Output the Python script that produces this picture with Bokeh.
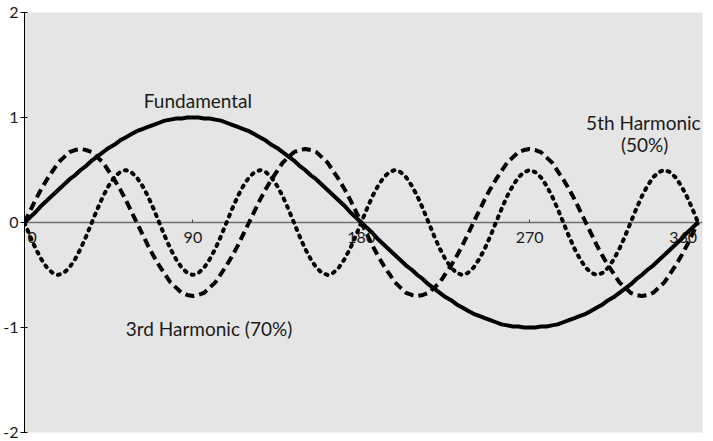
from bokeh.plotting import figure
from bokeh.models import FixedTicker, Label, Range1d
from bokeh.embed import file_html
from bokeh.resources import INLINE

# angle in degrees (sampled every 3 degrees)
degrees = list(range(0, 361, 3))

fundamental = [
    0.00, 0.05, 0.10, 0.16, 0.21, 0.26, 0.31, 0.36, 0.41, 0.45, 0.50, 0.54, 0.59, 0.63, 0.67, 0.71,
    0.74, 0.78, 0.81, 0.84, 0.87, 0.89, 0.91, 0.93, 0.95, 0.97, 0.98, 0.99, 0.99, 1.00, 1.00,
    1.00, 0.99, 0.99, 0.98, 0.97, 0.95, 0.93, 0.91, 0.89, 0.87, 0.84, 0.81, 0.78, 0.74, 0.71,
    0.67, 0.63, 0.59, 0.54, 0.50, 0.45, 0.41, 0.36, 0.31, 0.26, 0.21, 0.16, 0.10, 0.05, 0.00,
    -0.05, -0.10, -0.16, -0.21, -0.26, -0.31, -0.36, -0.41, -0.45, -0.50, -0.54, -0.59, -0.63, -0.67, -0.71,
    -0.74, -0.78, -0.81, -0.84, -0.87, -0.89, -0.91, -0.93, -0.95, -0.97, -0.98, -0.99, -0.99, -1.00, -1.00,
    -1.00, -0.99, -0.99, -0.98, -0.97, -0.95, -0.93, -0.91, -0.89, -0.87, -0.84, -0.81, -0.78, -0.74, -0.71,
    -0.67, -0.63, -0.59, -0.54, -0.50, -0.45, -0.41, -0.36, -0.31, -0.26, -0.21, -0.16, -0.10, -0.05, 0.00,
]

third_harmonic = [
    0.00, 0.11, 0.22, 0.32, 0.41, 0.49, 0.57, 0.62, 0.67, 0.69, 0.70, 0.69, 0.67, 0.62, 0.57, 0.49, 0.41, 0.32, 0.22, 0.11,
    0.00, -0.11, -0.22, -0.32, -0.41, -0.49, -0.57, -0.62, -0.67, -0.69, -0.70, -0.69, -0.67, -0.62, -0.57, -0.49, -0.41, -0.32, -0.22, -0.11,
    0.00, 0.11, 0.22, 0.32, 0.41, 0.49, 0.57, 0.62, 0.67, 0.69, 0.70, 0.69, 0.67, 0.62, 0.57, 0.49, 0.41, 0.32, 0.22, 0.11,
    0.00, -0.11, -0.22, -0.32, -0.41, -0.49, -0.57, -0.62, -0.67, -0.69, -0.70, -0.69, -0.67, -0.62, -0.57, -0.49, -0.41, -0.32, -0.22, -0.11,
    0.00, 0.11, 0.22, 0.32, 0.41, 0.49, 0.57, 0.62, 0.67, 0.69, 0.70, 0.69, 0.67, 0.62, 0.57, 0.49, 0.41, 0.32, 0.22, 0.11,
    0.00, -0.11, -0.22, -0.32, -0.41, -0.49, -0.57, -0.62, -0.67, -0.69, -0.70, -0.69, -0.67, -0.62, -0.57, -0.49, -0.41, -0.32, -0.22, -0.11,
    0.00,
]

fifth_harmonic = [
    0.00, -0.13, -0.25, -0.35, -0.43, -0.48, -0.50, -0.48, -0.43, -0.35, -0.25, -0.13,
    0.00, 0.13, 0.25, 0.35, 0.43, 0.48, 0.50, 0.48, 0.43, 0.35, 0.25, 0.13,
    0.00, -0.13, -0.25, -0.35, -0.43, -0.48, -0.50, -0.48, -0.43, -0.35, -0.25, -0.13,
    0.00, 0.13, 0.25, 0.35, 0.43, 0.48, 0.50, 0.48, 0.43, 0.35, 0.25, 0.13,
    0.00, -0.13, -0.25, -0.35, -0.43, -0.48, -0.50, -0.48, -0.43, -0.35, -0.25, -0.13,
    0.00, 0.13, 0.25, 0.35, 0.43, 0.48, 0.50, 0.48, 0.43, 0.35, 0.25, 0.13,
    0.00, -0.13, -0.25, -0.35, -0.43, -0.48, -0.50, -0.48, -0.43, -0.35, -0.25, -0.13,
    0.00, 0.13, 0.25, 0.35, 0.43, 0.48, 0.50, 0.48, 0.43, 0.35, 0.25, 0.13,
    0.00, -0.13, -0.25, -0.35, -0.43, -0.48, -0.50, -0.48, -0.43, -0.35, -0.25, -0.13,
    0.00, 0.13, 0.25, 0.35, 0.43, 0.48, 0.50, 0.48, 0.43, 0.35, 0.25, 0.13,
    0.00,
]

x_ticks = [0, 90, 180, 270, 360]
x_tick_labels = ["0", "90", "180", "270", "360"]
y_ticks = [-2, -1, 0, 1, 2]
y_tick_labels = ["-2", "-1", "0", "1", "2"]

FONT = "Lato"
TEXT = "#1a1a1a"

p = figure(
    frame_width=678, frame_height=420,
    x_range=Range1d(0, 362.4), y_range=Range1d(-2, 2),
    output_backend="svg", toolbar_location=None,
    min_border_top=12, min_border_bottom=9, min_border_right=7, min_border_left=0,
    background_fill_color="#e5e5e5", border_fill_color="white",
    outline_line_color=None,
)
p.grid.visible = False

# x axis line and ticks crossing at y = 0, drawn beneath the curves
xa = p.xaxis[0]
xa.fixed_location = 0
xa.level = "underlay"
xa.ticker = FixedTicker(ticks=x_ticks)
xa.axis_line_color = "#707070"
xa.axis_line_width = 1.5
xa.major_tick_line_color = "#404040"
xa.major_tick_in = 3
xa.major_tick_out = 0
xa.minor_tick_line_color = None
xa.major_label_text_color = None

# x tick labels, placed through the x scale just below the axis line;
# the end labels are aligned inward so they stay inside the plot frame
end_align = {x_ticks[0]: ("left", 3), x_ticks[-1]: ("right", -1)}
for t, s in zip(x_ticks, x_tick_labels):
    align, dx = end_align.get(t, ("center", 0))
    p.add_layout(Label(x=t, y=0, text=s, x_offset=dx, y_offset=-15,
                       text_align=align, text_baseline="middle",
                       text_font=FONT, text_font_size="16px", text_color=TEXT))

ya = p.yaxis[0]
ya.ticker = FixedTicker(ticks=y_ticks)
ya.major_label_overrides = {t: s for t, s in zip(y_ticks, y_tick_labels)}
ya.axis_line_color = "black"
ya.axis_line_width = 1
ya.major_tick_line_color = "black"
ya.major_tick_in = 3
ya.major_tick_out = 4
ya.minor_tick_line_color = None
ya.major_label_standoff = 2
ya.major_label_text_font = FONT
ya.major_label_text_font_size = "16px"
ya.major_label_text_color = TEXT

p.line(degrees, fifth_harmonic, line_color="black", line_width=4,
       line_dash="2 6", line_cap="round")
p.line(degrees, third_harmonic, line_color="black", line_width=4,
       line_dash="9 5")
p.line(degrees, fundamental, line_color="black", line_width=4)

def add_label(x, y, text):
    p.add_layout(Label(x=x, y=y, text=text, text_align="center", text_baseline="middle",
                       text_font=FONT, text_font_size="19px", text_color=TEXT))

add_label(92.7, 1.16, "Fundamental")
add_label(98.6, -1.01, "3rd Harmonic (70%)")
add_label(330.8, 0.95, "5th Harmonic")
add_label(331.5, 0.74, "(50%)")

open("out.html", "w").write(file_html(p, INLINE))
